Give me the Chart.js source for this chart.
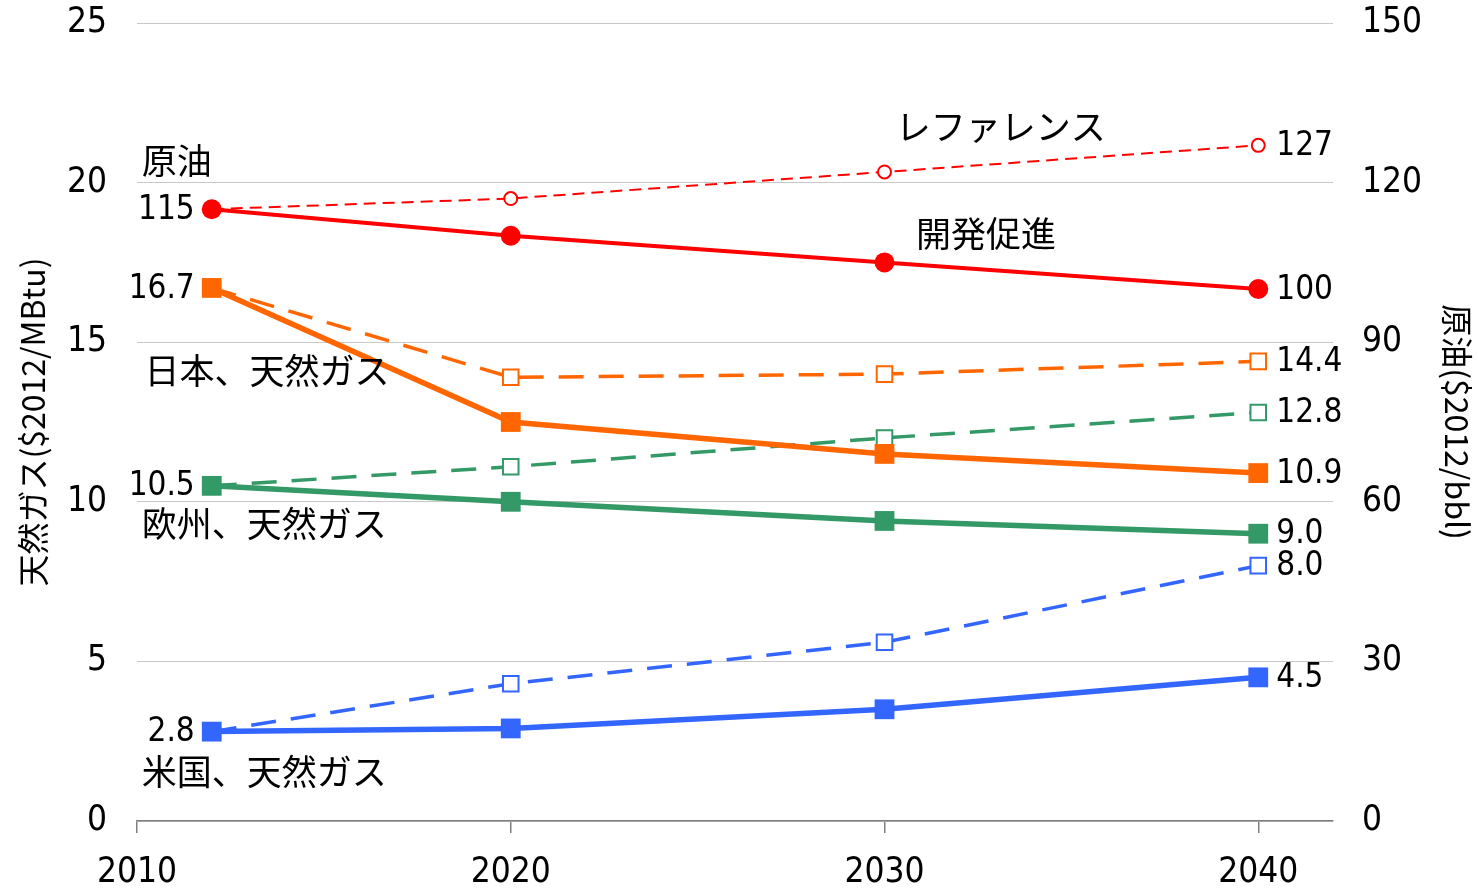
<!DOCTYPE html>
<html>
<head>
<meta charset="utf-8">
<script src="https://cdn.jsdelivr.net/npm/chart.js@4.4.1/dist/chart.umd.min.js"></script>
<style>
  html, body { margin: 0; padding: 0; background: #fff; }
  #wrap { width: 1478px; height: 893px; }
</style>
</head>
<body>
<div id="wrap"><canvas id="priceChart" width="1478" height="893"></canvas></div>
<script>
const years = [2012, 2020, 2030, 2040];
const xTicks = [2010, 2020, 2030, 2040];

// crude oil, $2012/bbl (right axis)
const oilPromo = [115, 110, 105, 100];
const oilRef = [115, 117, 122, 127];
// natural gas, $2012/MBtu (left axis)
const japanPromo = [16.7, 12.5, 11.5, 10.9];
const japanRef = [16.7, 13.9, 14.0, 14.4];
const europePromo = [10.5, 10.0, 9.4, 9.0];
const europeRef = [10.5, 11.1, 12.0, 12.8];
const usPromo = [2.8, 2.9, 3.5, 4.5];
const usRef = [2.8, 4.3, 5.6, 8.0];

const firstLabels = ['115', null, '16.7', null, '10.5', null, '2.8', null];
const lastLabels = ['100', '127', '10.9', '14.4', '9.0', '12.8', '4.5', '8.0'];

// series names placed in data units (x year, gas-axis value)
const seriesNotes = [
  { text: '原油', x: 2010.13, y: 20.7 },
  { text: '日本、天然ガス', x: 2010.2, y: 14.1 },
  { text: '欧州、天然ガス', x: 2010.13, y: 9.3 },
  { text: '米国、天然ガス', x: 2010.13, y: 1.53 },
  { text: 'レファレンス', x: 2030.3, y: 21.74 },
  { text: '開発促進', x: 2030.84, y: 18.39 }
];

const RED = '#FF0000';
const ORANGE = '#FF6600';
const GREEN = '#339966';
const BLUE = '#3366FF';
const NUM_FONT = '"DejaVu Sans Condensed", "DejaVu Sans", sans-serif';
const JP_FONT = '"Noto Sans CJK JP", sans-serif';

function pts(values) {
  return values.map((v, i) => ({ x: years[i], y: v }));
}

function solid(values, color, axis, round) {
  return {
    data: pts(values),
    yAxisID: axis,
    borderColor: color,
    backgroundColor: color,
    borderWidth: round ? 4 : 5.5,
    pointStyle: round ? 'circle' : 'rect',
    pointRadius: round ? 10 : 14,
    pointBorderWidth: 0,
    pointBackgroundColor: color,
    tension: 0
  };
}

function dashed(values, color, axis, round) {
  return {
    data: pts(values),
    yAxisID: axis,
    borderColor: color,
    backgroundColor: '#fff',
    borderWidth: round ? 2 : 3.5,
    borderDash: round ? [12, 7] : [25, 15],
    pointStyle: round ? 'circle' : 'rect',
    pointRadius: round ? 6.5 : 11,
    pointBorderWidth: 2,
    pointBackgroundColor: '#fff',
    pointBorderColor: color,
    tension: 0
  };
}

const endLabels = {
  id: 'endLabels',
  afterDatasetsDraw(chart) {
    const ctx = chart.ctx;
    ctx.save();
    ctx.fillStyle = '#000';
    ctx.font = '33px ' + NUM_FONT;
    ctx.textBaseline = 'middle';
    chart.data.datasets.forEach((ds, i) => {
      const meta = chart.getDatasetMeta(i);
      const first = meta.data[0];
      const last = meta.data[meta.data.length - 1];
      if (firstLabels[i]) {
        ctx.textAlign = 'right';
        ctx.fillText(firstLabels[i], first.x - 17, first.y + 1);
      }
      if (lastLabels[i]) {
        ctx.textAlign = 'left';
        ctx.fillText(lastLabels[i], last.x + 18, last.y + 1);
      }
    });
    ctx.font = '35px ' + JP_FONT;
    ctx.textAlign = 'left';
    const xs = chart.scales.x;
    const ys = chart.scales.y;
    seriesNotes.forEach(n => {
      ctx.fillText(n.text, xs.getPixelForValue(n.x), ys.getPixelForValue(n.y));
    });
    ctx.restore();
  }
};

function fitSide(width) {
  return s => {
    s.width = width;
    s.paddingTop = 0;
    s.paddingBottom = 0;
  };
}

new Chart(document.getElementById('priceChart'), {
  type: 'line',
  data: {
    datasets: [
      solid(oilPromo, RED, 'y2', true),
      dashed(oilRef, RED, 'y2', true),
      solid(japanPromo, ORANGE, 'y', false),
      dashed(japanRef, ORANGE, 'y', false),
      solid(europePromo, GREEN, 'y', false),
      dashed(europeRef, GREEN, 'y', false),
      solid(usPromo, BLUE, 'y', false),
      dashed(usRef, BLUE, 'y', false)
    ]
  },
  options: {
    responsive: false,
    animation: false,
    layout: { padding: { top: 23, left: 0, right: 0, bottom: 0 } },
    plugins: {
      legend: { display: false },
      tooltip: { enabled: false }
    },
    scales: {
      x: {
        type: 'linear',
        min: 2010,
        max: 2042,
        afterBuildTicks: s => { s.ticks = xTicks.map(v => ({ value: v })); },
        afterFit: s => { s.height = 72; s.paddingLeft = 0; s.paddingRight = 0; },
        grid: { drawOnChartArea: false, drawTicks: true, tickLength: 12, color: '#808080', lineWidth: 1.5 },
        border: { display: true, color: '#808080', width: 1.5 },
        ticks: {
          autoSkip: false,
          maxRotation: 0,
          padding: 19,
          color: '#000',
          font: { family: NUM_FONT, size: 35 },
          callback: v => String(v)
        }
      },
      y: {
        position: 'left',
        min: 0,
        max: 25,
        afterFit: fitSide(137),
        grid: { color: '#c8c8c8', lineWidth: 1, drawTicks: false },
        border: { display: false },
        ticks: {
          stepSize: 5,
          padding: 30,
          color: '#000',
          font: { family: NUM_FONT, size: 35 }
        },
        title: {
          display: true,
          text: '天然ガス($2012/MBtu)',
          color: '#000',
          font: { family: JP_FONT, size: 32 },
          padding: { top: 14, bottom: 0 }
        }
      },
      y2: {
        position: 'right',
        min: 0,
        max: 150,
        afterFit: fitSide(145),
        grid: { drawOnChartArea: false, drawTicks: false },
        border: { display: false },
        ticks: {
          stepSize: 30,
          padding: 29,
          color: '#000',
          font: { family: NUM_FONT, size: 35 }
        },
        title: {
          display: true,
          text: '原油($2012/bbl)',
          color: '#000',
          font: { family: JP_FONT, size: 32 },
          padding: { top: 2, bottom: 0 }
        }
      }
    }
  },
  plugins: [endLabels]
});
</script>
</body>
</html>
